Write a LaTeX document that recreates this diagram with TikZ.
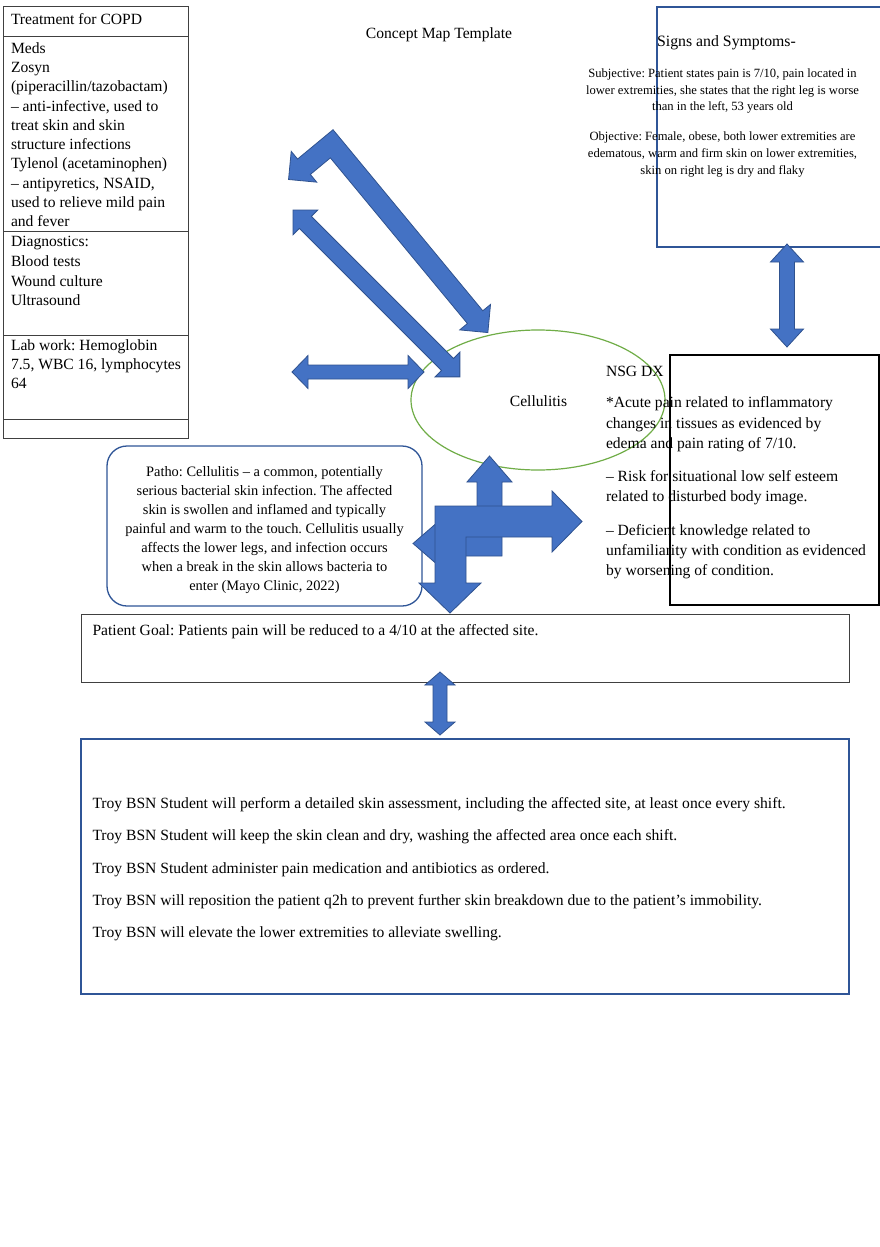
\documentclass[tikz,border=0pt]{standalone}
\usepackage{fontspec}
\setmainfont{Liberation Serif}
\usetikzlibrary{shapes.geometric}
\frenchspacing
\definecolor{arrowfill}{HTML}{4472C4}
\definecolor{arrowline}{HTML}{2F528F}
\definecolor{boxblue}{HTML}{2F5597}
\definecolor{ellgreen}{HTML}{70AD47}
\definecolor{tablegray}{HTML}{404040}
\newcommand{\linesL}[1]{\vtop{\halign{##\hfil\cr#1\crcr}}}
\newcommand{\linesC}[1]{\vtop{\halign{\hfil##\hfil\cr#1\crcr}}}
\newcommand{\dblarrow}[6]{%
  \begin{scope}[shift={#1},rotate=#2]
    \filldraw[blockarrow] (0,0) -- (#6,#5) -- (#6,#4) -- ({#3-#6},#4) -- ({#3-#6},#5) -- (#3,0) -- ({#3-#6},-#5) -- ({#3-#6},-#4) -- (#6,-#4) -- (#6,-#5) -- cycle;
  \end{scope}}
\tikzset{
  txt/.style={inner sep=0pt, outer sep=0pt, text=black},
  mainfont/.style={font=\fontsize{15.6}{19.3}\selectfont\frenchspacing},
  blockarrow/.style={fill=arrowfill, draw=arrowline, line width=0.8pt, line join=miter},
  bluebox/.style={draw=boxblue, line width=1.3pt},
  graybox/.style={draw=tablegray, line width=1pt},
}
\begin{document}
\begin{tikzpicture}[x=1pt,y=-1pt]
\useasboundingbox (0,0) rectangle (880,1247);
\fill[white] (0,0) rectangle (880,1247);

% ---------- ellipse ----------
\node[ellipse, draw=ellgreen, line width=1.2pt, minimum width=254, minimum height=140, inner sep=0pt] (cell) at (538,400) {};
\node[txt, mainfont, anchor=base] (celltxt) at (538.5,406.7) {Cellulitis};

% ---------- boxes ----------
\draw[graybox] (3,7) rectangle (188,438);
\draw[graybox] (3,37) -- (188,37);
\draw[graybox] (3,231) -- (188,231);
\draw[graybox] (3,335) -- (188,335);
\draw[graybox] (3,419) -- (188,419);

\draw[bluebox] (880,7) -- (657,7) -- (657,247) -- (880,247);
\draw[black, line width=1.3pt] (670,355) rectangle (879,605);
\draw[bluebox, rounded corners=20] (107,446) rectangle (422,606);
\draw[graybox] (81,614) rectangle (849,682);
\draw[bluebox] (81,739) rectangle (849,994);

% ---------- block arrows ----------
% bent double arrow (upper diagonal)
\begin{scope}[shift={(331.7,143.8)},rotate=-50.4]
  \filldraw[blockarrow] (-10,-10) -- (225,-10) -- (225,-20) -- (245,0) -- (225,20) -- (225,10) -- (10,10) -- (10,36) -- (20,36) -- (0,56) -- (-20,36) -- (-10,36) -- cycle;
\end{scope}
% straight diagonal double arrow
\dblarrow{(293,210)}{-45}{236}{8.5}{17.5}{17.5}
% horizontal double arrow
\dblarrow{(292,372)}{0}{132}{7}{16.5}{16}
% signs <-> nsg
\dblarrow{(787,244)}{-90}{103}{7.5}{16.5}{18}
% goal <-> interventions
\dblarrow{(440,672)}{-90}{63}{7}{15}{13}
% left-up arrow
\filldraw[blockarrow] (502,556) -- (502,482) -- (512,482) -- (489.5,456) -- (467,482) -- (477,482) -- (477,531) -- (439,531) -- (439,521) -- (413,543.5) -- (439,566) -- (439,556) -- cycle;
% bent right-down arrow
\filldraw[blockarrow] (435,506) -- (552,506) -- (552,491) -- (582,521.5) -- (552,552) -- (552,537) -- (466,537) -- (466,583) -- (481,583) -- (450,613) -- (419,583) -- (435,583) -- cycle;

% ---------- texts ----------
\node[txt, mainfont, anchor=base] (maptitle) at (439,38) {Concept Map Template};

\node[txt, mainfont, anchor=base west] (treat) at (11,25) {Treatment for COPD};
\node[txt, font=\fontsize{15.6}{19.27}\selectfont\frenchspacing, anchor=base west] (meds) at (11,53.3) {\linesL{Meds\cr
Zosyn\cr
(piperacillin/tazobactam)\cr
– anti-infective, used to\cr
treat skin and skin\cr
structure infections\cr
Tylenol (acetaminophen)\cr
– antipyretics, NSAID,\cr
used to relieve mild pain\cr
and fever}};
\node[txt, font=\fontsize{15.6}{19.7}\selectfont\frenchspacing, anchor=base west] (diag) at (11,246.7) {\linesL{Diagnostics:\cr
Blood tests\cr
Wound culture\cr
Ultrasound}};
\node[txt, font=\fontsize{15.6}{19}\selectfont\frenchspacing, anchor=base west] (lab) at (11,350.7) {\linesL{Lab work: Hemoglobin\cr
7.5, WBC 16, lymphocytes\cr
64}};

\node[txt, font=\fontsize{15.8}{19}\selectfont\frenchspacing, anchor=base] (signs) at (726.5,47) {Signs and Symptoms-};
\node[txt, font=\fontsize{12.6}{16.7}\selectfont\frenchspacing, anchor=base] (subj) at (722.5,77.3) {\linesC{Subjective: Patient states pain is 7/10, pain located in\cr
lower extremities, she states that the right leg is worse\cr
than in the left, 53 years old}};
\node[txt, font=\fontsize{12.6}{17}\selectfont\frenchspacing, anchor=base] (obj) at (722.5,140) {\linesC{Objective: Female, obese, both lower extremities are\cr
edematous, warm and firm skin on lower extremities,\cr
skin on right leg is dry and flaky}};

\node[txt, mainfont, anchor=base west] (nsg) at (606,376.7) {NSG DX};
\node[txt, font=\fontsize{15.6}{20.8}\selectfont\frenchspacing, anchor=base west] (dx1) at (606,407.3) {\linesL{*Acute pain related to inflammatory\cr
changes in tissues as evidenced by\cr
edema and pain rating of 7/10.}};
\node[txt, font=\fontsize{15.6}{20}\selectfont\frenchspacing, anchor=base west] (dx2) at (606,481.7) {\linesL{– Risk for situational low self esteem\cr
related to disturbed body image.}};
\node[txt, font=\fontsize{15.6}{20.4}\selectfont\frenchspacing, anchor=base west] (dx3) at (606,535) {\linesL{– Deficient knowledge related to\cr
unfamiliarity with condition as evidenced\cr
by worsening of condition.}};

\node[txt, font=\fontsize{14.4}{19}\selectfont\frenchspacing, anchor=base] (patho) at (264.5,476) {\linesC{Patho: Cellulitis – a common, potentially\cr
serious bacterial skin infection. The affected\cr
skin is swollen and inflamed and typically\cr
painful and warm to the touch. Cellulitis usually\cr
affects the lower legs, and infection occurs\cr
when a break in the skin allows bacteria to\cr
enter (Mayo Clinic, 2022)}};

\node[txt, mainfont, anchor=base west] (goal) at (92.5,635) {Patient Goal: Patients pain will be reduced to a 4/10 at the affected site.};

\node[txt, font=\fontsize{15.6}{32.35}\selectfont\frenchspacing, anchor=base west] (interv) at (92.5,808.3) {\linesL{Troy BSN Student will perform a detailed skin assessment, including the affected site, at least once every shift.\cr
Troy BSN Student will keep the skin clean and dry, washing the affected area once each shift.\cr
Troy BSN Student administer pain medication and antibiotics as ordered.\cr
Troy BSN will reposition the patient q2h to prevent further skin breakdown due to the patient’s immobility.\cr
Troy BSN will elevate the lower extremities to alleviate swelling.}};
\end{tikzpicture}
\end{document}
